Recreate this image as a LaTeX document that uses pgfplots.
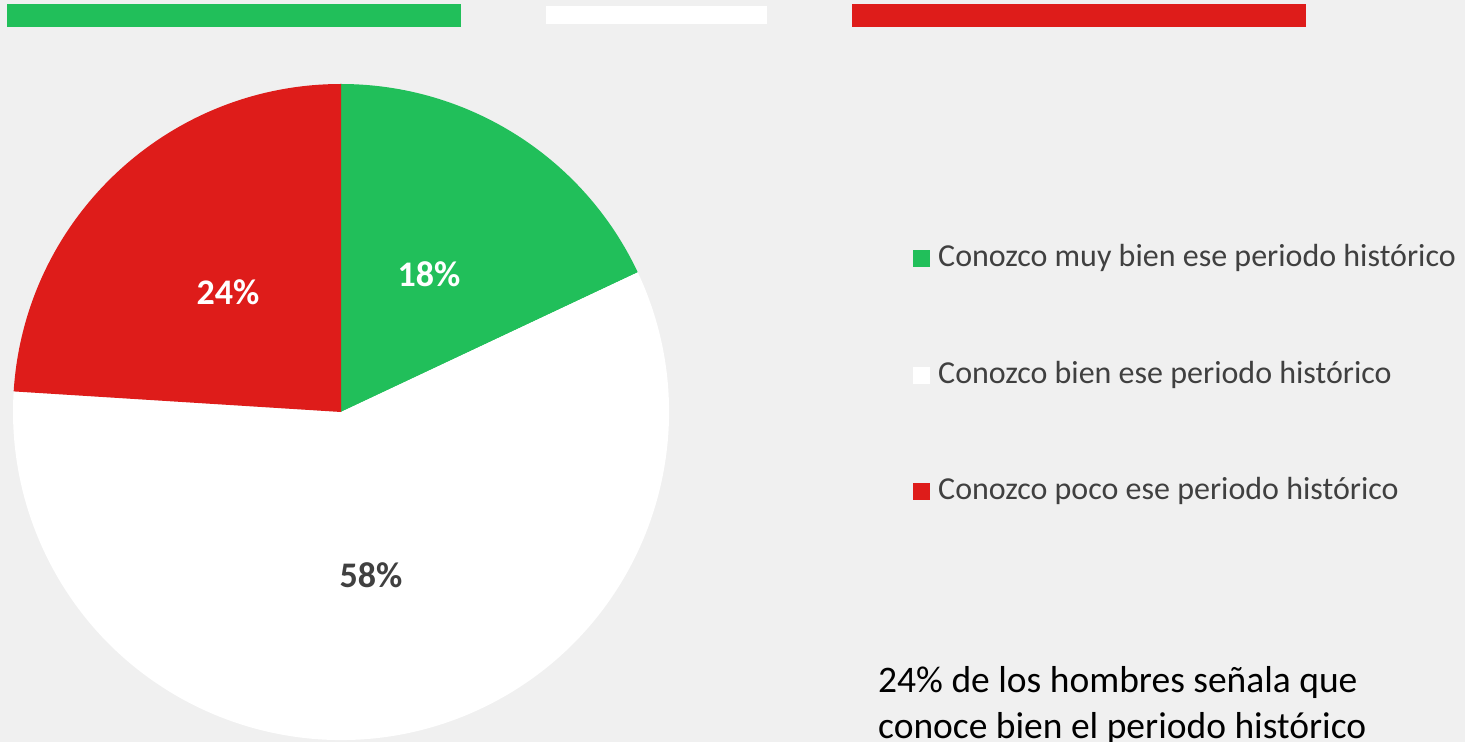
\documentclass[border=0pt]{standalone}
\usepackage{pgfplots}
\pgfplotsset{compat=1.18}
\usepackage{pgfplotstable}
\usepackage{fontspec}
\setmainfont{Carlito}
\definecolor{bg}{HTML}{F0F0F0}
\definecolor{cgreen}{HTML}{21BF5A}
\definecolor{cred}{HTML}{DE1C1A}
\definecolor{tgray}{HTML}{404040}

\pgfplotstableread{
key value
muy 18
bien 58
poco 24
}\piedata

\begin{document}
\begin{tikzpicture}
\pgfplotstablegetelem{0}{value}\of\piedata \pgfmathtruncatemacro\va{\pgfplotsretval}
\pgfplotstablegetelem{1}{value}\of\piedata \pgfmathtruncatemacro\vb{\pgfplotsretval}
\pgfplotstablegetelem{2}{value}\of\piedata \pgfmathtruncatemacro\vc{\pgfplotsretval}
\pgfmathsetmacro\aA{90-3.6*\va}
\pgfmathsetmacro\aB{\aA-3.6*\vb}
\pgfmathsetmacro\aC{\aB-3.6*\vc}
\begin{axis}[
  scale only axis, width=1465bp, height=742bp,
  xmin=0, xmax=1465, ymin=0, ymax=742,
  hide axis, clip=false,
]
% background
\fill[bg] (axis cs:0,0) rectangle (axis cs:1465,742);
% top bars
\fill[cgreen] (axis cs:7,715) rectangle (axis cs:461,738);
\fill[white] (axis cs:546,718) rectangle (axis cs:767,736);
\fill[cred] (axis cs:852,715) rectangle (axis cs:1306,738);
% pie
\fill[cgreen] (axis cs:341,330) -- ++(90:328bp) arc[start angle=90, end angle=\aA, radius=328bp] -- cycle;
\fill[white] (axis cs:341,330) -- ++(\aA:328bp) arc[start angle=\aA, end angle=\aB, radius=328bp] -- cycle;
\fill[cred] (axis cs:341,330) -- ++(\aB:328bp) arc[start angle=\aB, end angle=\aC, radius=328bp] -- cycle;
% labels
\node[text=white, font=\fontsize{36bp}{42bp}\selectfont\bfseries] at (axis cs:429,468) {\va\%};
\node[text=tgray, font=\fontsize{36bp}{42bp}\selectfont\bfseries] at (axis cs:371,167) {\vb\%};
\node[text=white, font=\fontsize{36bp}{42bp}\selectfont\bfseries] at (axis cs:228,450) {\vc\%};
% legend
\fill[cgreen] (axis cs:913,474.5) rectangle (axis cs:930,491.5);
\fill[white] (axis cs:913,357.5) rectangle (axis cs:930,374.5);
\fill[cred] (axis cs:913,241.5) rectangle (axis cs:930,258.5);
\node[anchor=base west, inner sep=0pt, text=tgray, font=\fontsize{32bp}{38bp}\selectfont] at (axis cs:938,475) {Conozco muy bien ese periodo histórico};
\node[anchor=base west, inner sep=0pt, text=tgray, font=\fontsize{32bp}{38bp}\selectfont] at (axis cs:938,358) {Conozco bien ese periodo histórico};
\node[anchor=base west, inner sep=0pt, text=tgray, font=\fontsize{32bp}{38bp}\selectfont] at (axis cs:938,242) {Conozco poco ese periodo histórico};
% note
\node[anchor=base west, inner sep=0pt, text=black, font=\fontsize{37.5bp}{45bp}\selectfont] at (axis cs:878,49) {24\% de los hombres señala que};
\node[anchor=base west, inner sep=0pt, text=black, font=\fontsize{37.5bp}{45bp}\selectfont] at (axis cs:878,4) {conoce bien el periodo histórico};
\end{axis}
\pgfresetboundingbox
\path[use as bounding box] (0,0) rectangle (1465bp,742bp);
\end{tikzpicture}
\end{document}
